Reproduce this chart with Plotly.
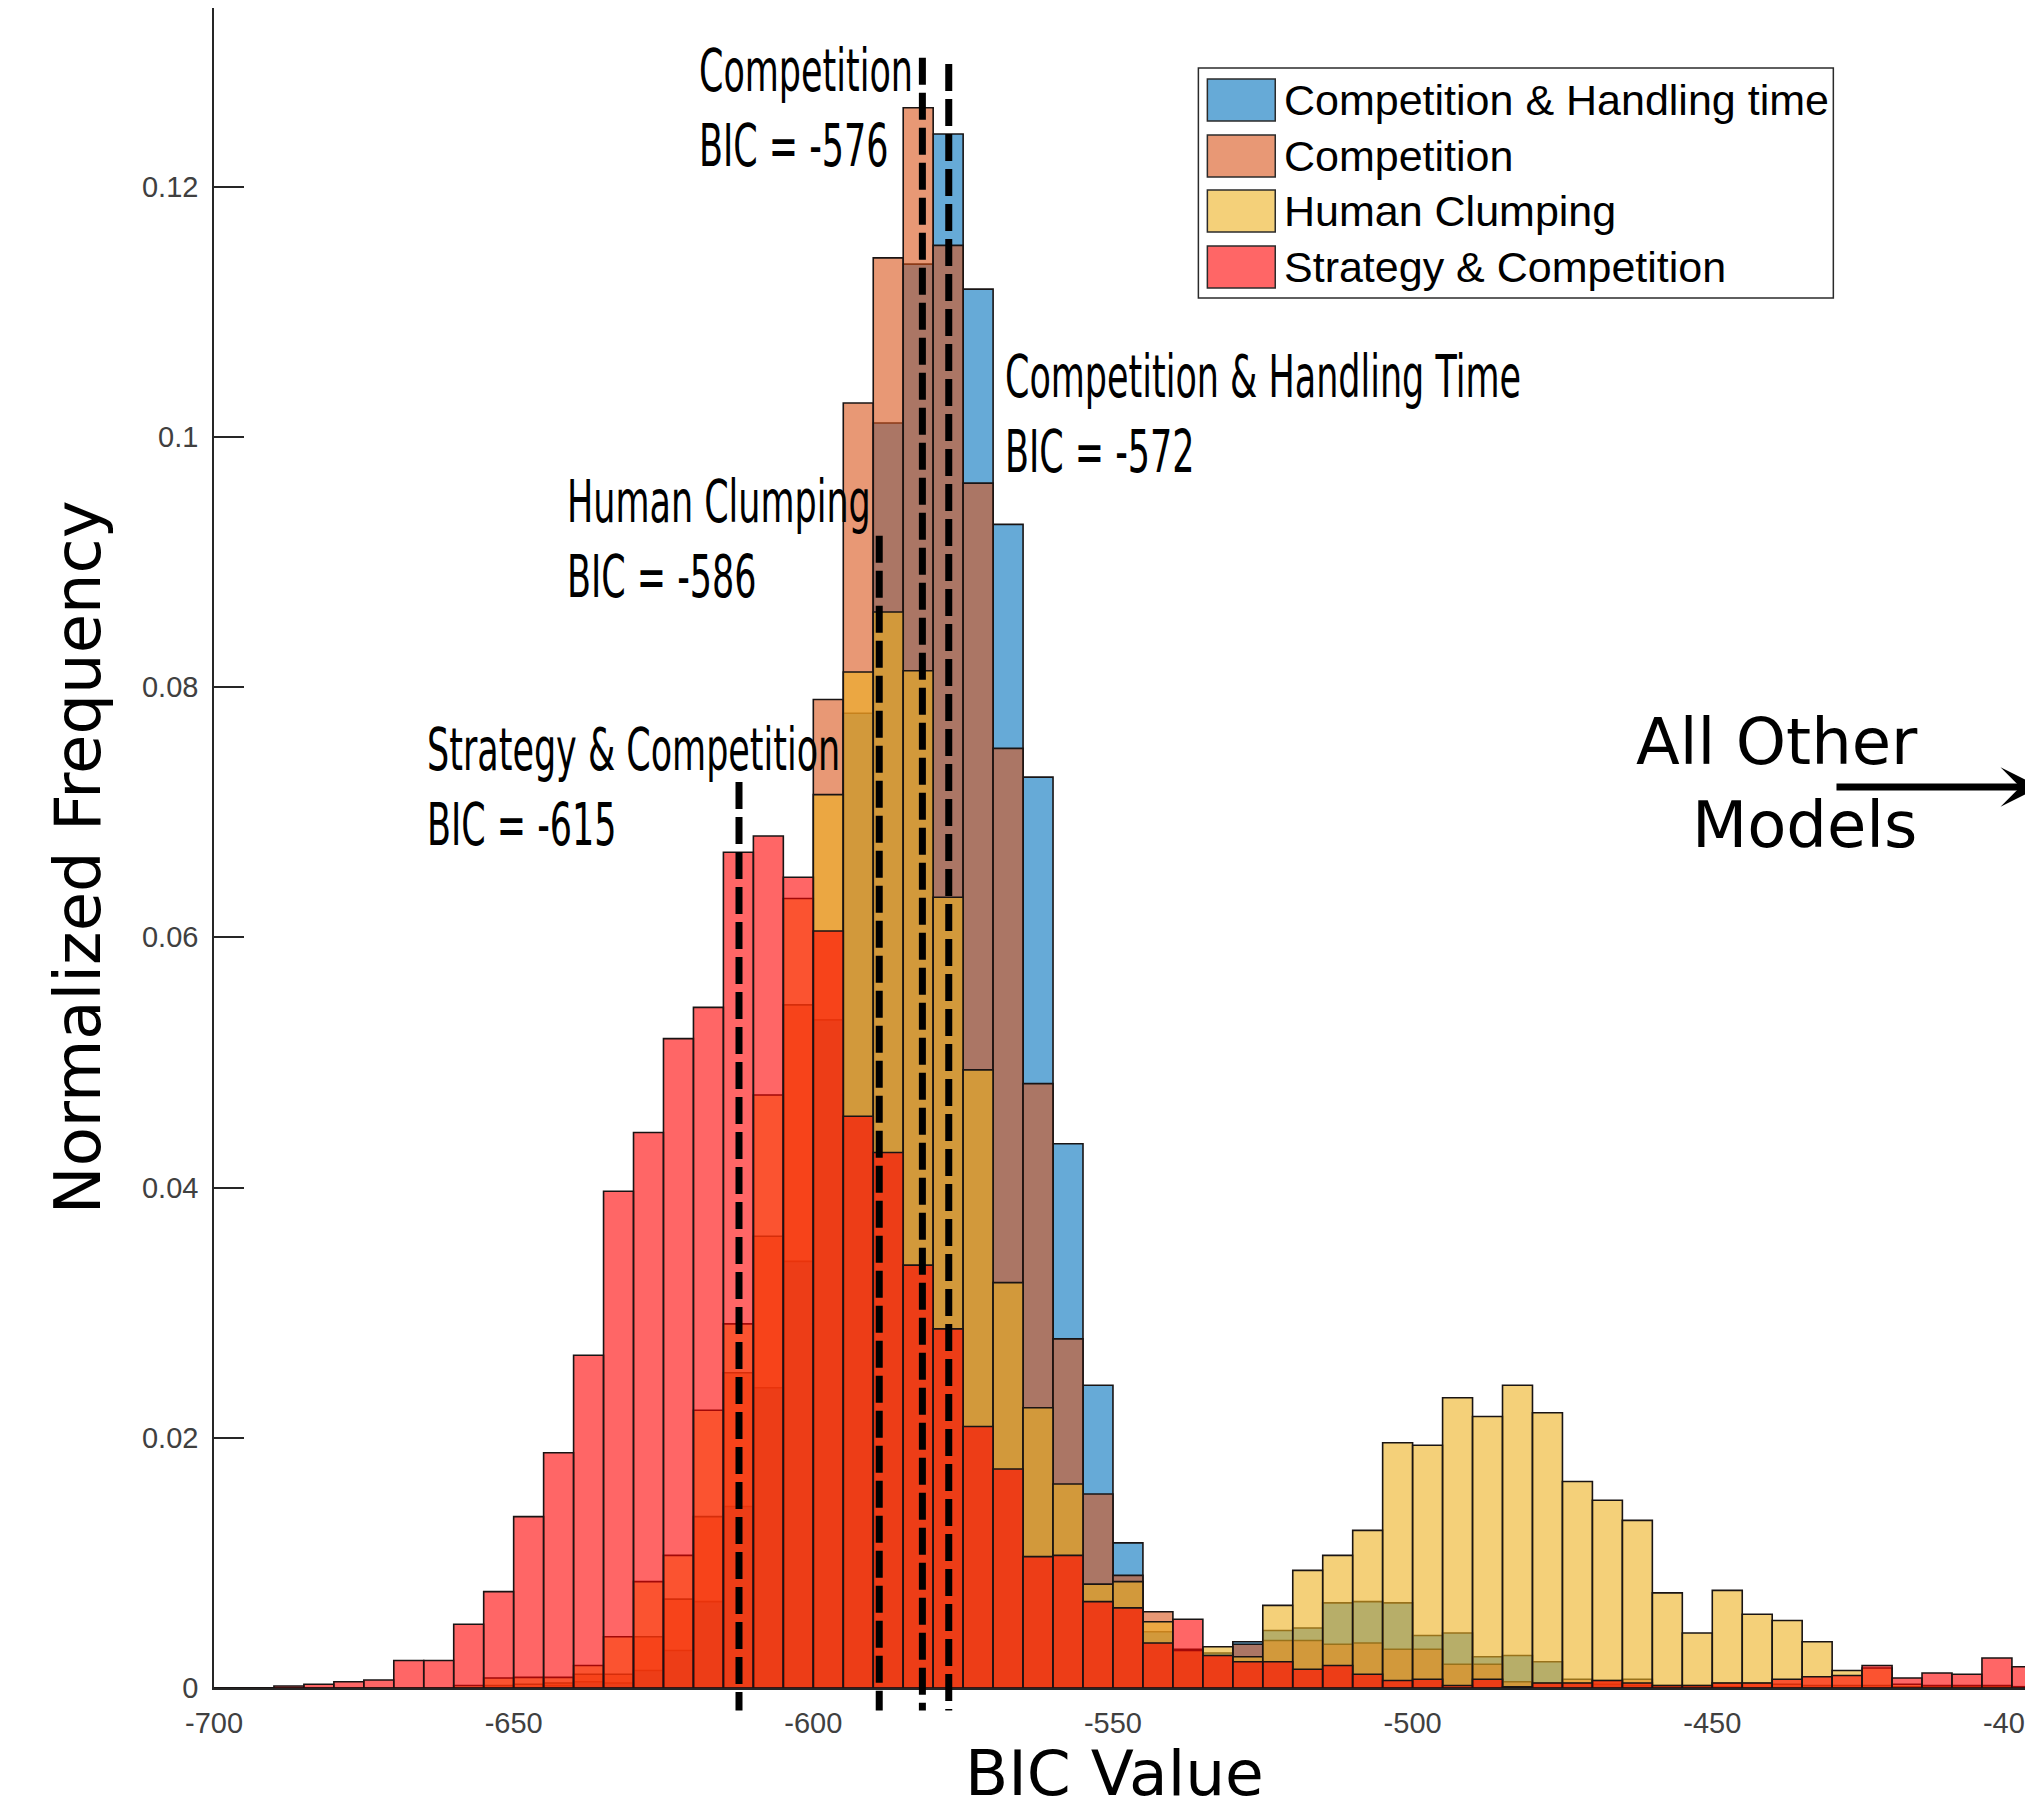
import plotly.graph_objects as go

# ---------------- data ----------------
bic_bins = list(range(-700, -395, 5))          # left edges of the 5-unit BIC bins
bin_width = 5

series_names = ["Competition & Handling time", "Competition", "Human Clumping", "Strategy & Competition"]

comp_handling = [0, 0, 0, 0, 0, 0, 0, 0, 0, 0,
                 0, 0.0002, 0.0005, 0.0004, 0.0014, 0.0030, 0.0069, 0.0145, 0.0240, 0.0341,
                 0.0534, 0.0779, 0.1011, 0.1138, 0.1242, 0.1118, 0.0930, 0.0728, 0.0435, 0.0242,
                 0.0116, 0.0045, 0.0030, 0.0028, 0.0037, 0.0046, 0.0048, 0.0068, 0.0069, 0.0068,
                 0.0042, 0.0044, 0.0025, 0.0026, 0.0021, 0.0004, 0.0003, 0.0002, 0.0001, 0.0001,
                 0.0001, 0, 0, 0, 0, 0, 0, 0, 0, 0,
                 0]
competition = [0, 0, 0, 0, 0, 0, 0, 0, 0, 0.0002,
               0.0003, 0.0004, 0.0011, 0.0011, 0.0041, 0.0071, 0.0137, 0.0252, 0.0361, 0.0546,
               0.0790, 0.1027, 0.1143, 0.1263, 0.1153, 0.0963, 0.0751, 0.0483, 0.0279, 0.0155,
               0.0090, 0.0061, 0.0031, 0.0026, 0.0035, 0.0038, 0.0038, 0.0035, 0.0036, 0.0031,
               0.0031, 0.0019, 0.0019, 0.0005, 0.0004, 0.0007, 0.0006, 0.0007, 0.0002, 0.0002,
               0.0004, 0.0004, 0.0003, 0.0002, 0.0002, 0.0002, 0.0001, 0.0001, 0.0001, 0.0001,
               0.0001]
human_clumping = [0, 0, 0, 0, 0, 0, 0, 0, 0.0002, 0.0008,
                  0.00085, 0.00085, 0.0018, 0.0041, 0.0085, 0.0106, 0.0222, 0.0291, 0.0474, 0.0631,
                  0.0714, 0.0812, 0.0860, 0.0813, 0.0632, 0.0494, 0.0324, 0.0224, 0.0163, 0.0083,
                  0.0085, 0.0053, 0.0030, 0.0033, 0.0025, 0.0066, 0.0094, 0.0106, 0.0126, 0.0196,
                  0.0194, 0.0232, 0.0217, 0.0242, 0.0220, 0.0165, 0.0150, 0.0134, 0.0076, 0.0044,
                  0.0078, 0.0059, 0.0054, 0.0037, 0.0014, 0.0016, 0.0003, 0.0002, 0.0002, 0.0002,
                  0.0001]
strategy_comp = [0, 0, 0.00016, 0.0003, 0.0005, 0.00064, 0.0022, 0.0022, 0.0051, 0.0077,
                 0.0137, 0.0188, 0.0266, 0.0397, 0.0444, 0.0519, 0.0544, 0.0668, 0.0681, 0.0648,
                 0.0605, 0.0457, 0.0428, 0.0338, 0.0287, 0.0209, 0.0175, 0.0105, 0.0106, 0.0069,
                 0.0064, 0.0036, 0.0055, 0.0026, 0.0021, 0.0021, 0.0015, 0.0018, 0.0011, 0.0006,
                 0.0007, 0.0002, 0.0007, 0.0001, 0.0004, 0.0004, 0.0006, 0.0004, 0.0002, 0.0002,
                 0.0004, 0.0004, 0.0007, 0.0009, 0.0010, 0.0018, 0.0008, 0.0012, 0.0011, 0.0024,
                 0.0017]

# dashed marker lines (x as drawn in the figure), top of each line
marker_line_x = [-612.4, -589.0, -581.8, -577.4]
marker_line_top = [0.0724, 0.0921, 0.1303, 0.1298]
marker_line_bottom = -0.0018

label_texts = ["Competition<br>BIC = -576",
               "Competition & Handling Time<br>BIC = -572",
               "Human Clumping<br>BIC = -586",
               "Strategy & Competition<br>BIC = -615"]
label_x = [-619.4, -568.4, -641.5, -664.85]
label_y = [0.1262, 0.1018, 0.0918, 0.0720]

other_text = "All Other<br>Models"
other_x, other_y = -415.4, 0.0723

y_ticks = [0, 0.02, 0.04, 0.06, 0.08, 0.1, 0.12]
y_ticktext = ["0", "0.02", "0.04", "0.06", "0.08", "0.1", "0.12"]
x_ticks = [-700, -650, -600, -550, -500, -450, -400]
x_ticktext = ["-700", "-650", "-600", "-550", "-500", "-450", "-400"]

# ---------------- style ----------------
OFF = 8                      # the page puts the figure 8px from the top-left corner
W, H = 2033, 1800
ML, MR, MT, MB = 206, 0, 0, 120
PW, PH = W - ML - MR, H - MT - MB
X_RANGE = [-700, -395.65]
Y_RANGE = [0, 0.13427]

colors = ["rgba(0,114,189,0.6)", "rgba(217,83,25,0.6)",
          "rgba(237,177,32,0.6)", "rgba(255,0,0,0.6)"]
series = [comp_handling, competition, human_clumping, strategy_comp]

def px_x(px):   # page pixel -> paper x
    return (px - OFF - ML) / PW

def px_y(py):   # page pixel -> paper y
    return (H - MB - (py - OFF)) / PH

fig = go.Figure()
for name, vals, col in zip(series_names, series, colors):
    fig.add_trace(go.Bar(
        x=bic_bins, y=vals, width=bin_width, offset=0, name=name,
        marker=dict(color=col, line=dict(color="rgba(25,20,20,1)", width=1.6)),
        showlegend=False,
    ))

shapes = []
for xv, top in zip(marker_line_x, marker_line_top):
    shapes.append(dict(type="line", xref="x", yref="paper", x0=xv, x1=xv,
                       y0=top / Y_RANGE[1], y1=marker_line_bottom / Y_RANGE[1],
                       line=dict(color="black", width=7, dash="27px,8px")))

annotations = []
for t, xv, yv in zip(label_texts, label_x, label_y):
    annotations.append(dict(text=t, x=xv, y=yv, xref="x", yref="y", showarrow=False,
                            xanchor="left", yanchor="middle", align="left",
                            font=dict(family="DejaVu Sans", size=58, color="black")))

# manual legend
leg_x0, leg_x1, leg_top, leg_bot = 1200, 1836, 68, 298
shapes.append(dict(type="rect", xref="paper", yref="paper",
                   x0=px_x(leg_x0), x1=px_x(leg_x1), y0=px_y(leg_bot), y1=px_y(leg_top),
                   line=dict(color="#2b2b2b", width=1.5), fillcolor="white", layer="above"))
row_centers = [100, 156, 211, 267]
for name, col, rc in zip(series_names, colors, row_centers):
    shapes.append(dict(type="rect", xref="paper", yref="paper",
                       x0=px_x(1209), x1=px_x(1277), y0=px_y(rc + 21), y1=px_y(rc - 21),
                       line=dict(color="#2b2b2b", width=1.5), fillcolor=col, layer="above"))
    annotations.append(dict(text=name, x=px_x(1284), y=px_y(rc), xref="paper", yref="paper",
                            showarrow=False, xanchor="left", yanchor="middle",
                            font=dict(family="Liberation Sans", size=43, color="black")))

annotations.append(dict(text=other_text, x=other_x, y=other_y, xref="x", yref="y",
                        showarrow=False, xanchor="right", yanchor="middle", align="right",
                        font=dict(family="DejaVu Sans", size=64, color="black")))
annotations.append(dict(text="", x=px_x(2048), y=px_y(787), xref="paper", yref="paper",
                        showarrow=True, arrowhead=3, arrowsize=0.94, arrowwidth=7,
                        arrowcolor="black", ax=1838 - 2048, ay=0, standoff=0))

# axis titles (placed as text)
annotations.append(dict(text="Normalized Frequency", x=px_x(78), y=px_y(857), xref="paper", yref="paper",
                        showarrow=False, textangle=-90, xanchor="center", yanchor="middle",
                        font=dict(family="DejaVu Sans", size=64, color="black")))
annotations.append(dict(text="BIC Value", x=px_x(1116), y=px_y(1773), xref="paper", yref="paper",
                        showarrow=False, xanchor="center", yanchor="middle",
                        font=dict(family="DejaVu Sans", size=63, color="black")))

fig.update_layout(
    width=W, height=H, margin=dict(l=ML, r=MR, t=MT, b=MB, pad=0),
    paper_bgcolor="white", plot_bgcolor="white",
    barmode="overlay", showlegend=False,
    shapes=shapes, annotations=annotations,
    xaxis=dict(range=X_RANGE, tickvals=x_ticks, ticktext=x_ticktext,
               showgrid=False, zeroline=False, showline=True, linecolor="#262626", linewidth=1.5,
               ticks="", ticklabelstandoff=8, ticklabeloverflow="allow",
               tickfont=dict(family="Liberation Sans", size=29, color="#404040")),
    yaxis=dict(range=Y_RANGE, tickvals=y_ticks, ticktext=y_ticktext,
               showgrid=False, zeroline=False, showline=True, linecolor="#262626", linewidth=1.5,
               ticks="inside", ticklen=30, tickwidth=1.5, tickcolor="#262626",
               ticklabelstandoff=8,
               tickfont=dict(family="Liberation Sans", size=29, color="#404040")),
)

post = """
var gd = document.getElementById('{plot_id}');
for (var i = 0; i < 4; i++) {
  var t = gd.querySelector('g.annotation[data-index="' + i + '"] text.annotation-text');
  if (t) {
    t.style.transformBox = 'fill-box';
    t.style.transformOrigin = '0% 50%';
    t.style.transform = 'scaleX(0.603)';
  }
}
"""

fig.write_html("out.html", post_script=post, config={"displayModeBar": False})
